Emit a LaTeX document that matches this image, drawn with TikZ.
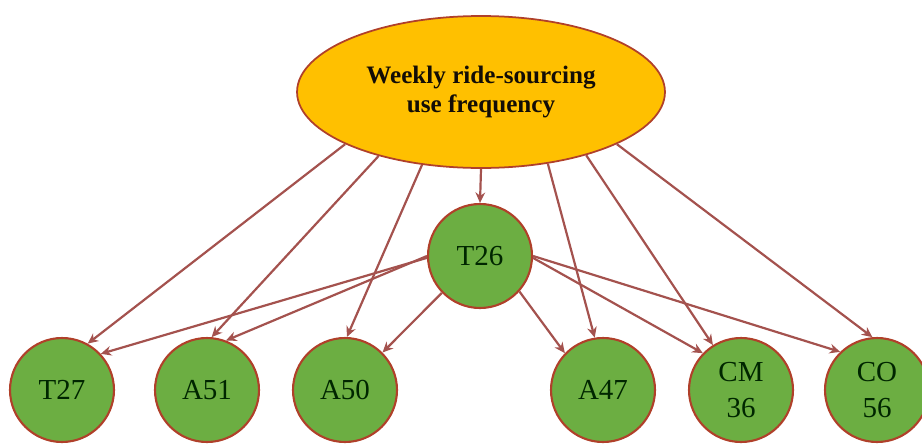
\documentclass[tikz,border=0pt]{standalone}
\usepackage{fontspec}
\setmainfont{Liberation Serif}
\usepackage{xcolor}
\usetikzlibrary{shapes, arrows.meta, positioning}

\definecolor{ouro}{HTML}{FFC000}
\definecolor{verde}{HTML}{6CAE42}
\definecolor{borda}{HTML}{B0402A}
\definecolor{setacor}{HTML}{A4524E}

\begin{document}
\begin{tikzpicture}[
        x=0.02cm, y=-0.02cm, % 1 unidade = 1 pixel da figura original
        desfecho/.style={ellipse, draw=borda, line width=1pt, fill=ouro, inner sep=0pt, minimum width=7.36cm, minimum height=3.04cm, align=center, text=black!90!brown, font=\bfseries\fontsize{14.3}{17}\selectfont},
        fator/.style={circle, draw=borda, line width=1.2pt, fill=verde, inner sep=0pt, minimum size=2.08cm, align=center, text=black!85!green, font=\fontsize{16.5}{20}\selectfont},
        ligacao/.style={-{Stealth[length=6pt, width=5.5pt]}, line width=1.25pt, color=setacor}
        ]
        \useasboundingbox (0,0) rectangle (922,443);

        % Variavel resposta
        \node[desfecho] (uso) at (481, 92) {Weekly ride-sourcing\\use frequency};

        % Fatores
        \node[fator] (t26) at (480, 256) {T26};

        \node[fator] (t27) at (62, 390) {T27};
        \node[fator] (a51) at (207, 390) {A51};
        \node[fator] (a50) at (345, 390) {A50};
        \node[fator] (a47) at (603, 390) {A47};
        \node[fator] (cm36) at (741, 390) {CM\\36};
        \node[fator] (co56) at (877, 390) {CO\\56};

        % Setas a partir da elipse
        \draw[ligacao] (uso.201) -- (t27.61);
        \draw[ligacao] (uso.212) -- (a51.85);
        \draw[ligacao] (uso.231) -- (a50.88);
        \draw[ligacao] (uso.270) -- (t26.90);
        \draw[ligacao] (uso.313) -- (a47.99);
        \draw[ligacao] (uso.329) -- (cm36.122);
        \draw[ligacao] (uso.339) -- (co56.95);

        % Setas a partir de T26
        \draw[ligacao] (t26.182) -- (t27.43);
        \draw[ligacao] (t26.180) -- (a51.69);
        \draw[ligacao] (t26.224) -- (a50.45);
        \draw[ligacao] (t26.318) -- (a47.136);
        \draw[ligacao] (t26.358) -- (cm36.136);
        \draw[ligacao] (t26.0) -- (co56.134);

    \end{tikzpicture}
\end{document}
